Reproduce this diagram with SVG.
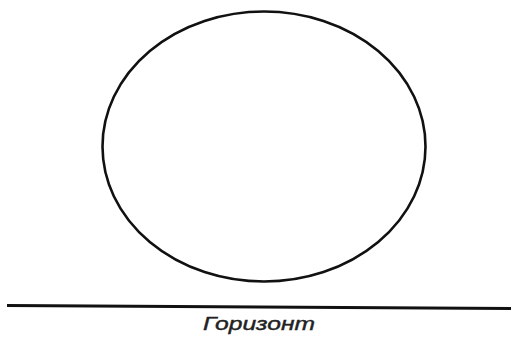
<svg xmlns="http://www.w3.org/2000/svg" width="511" height="339" viewBox="0 0 511 339">
<style>
.shape{fill:none;stroke:#111;stroke-width:2.6}
.lbl{font-family:"Liberation Sans",Arial,sans-serif;font-style:italic;font-size:19px;fill:#222;stroke:#222;stroke-width:0.4}
</style>
<rect width="511" height="339" fill="#fff"/>
<g id="circle">
<ellipse class="shape" cx="264" cy="146.5" rx="161.5" ry="135"/>
</g>
<g id="horizon">
<line x1="7" y1="305.5" x2="511" y2="308.5" stroke="#111" stroke-width="3"/>
<text class="lbl" x="203" y="330" textLength="112" lengthAdjust="spacingAndGlyphs">Горизонт</text>
</g>
</svg>
